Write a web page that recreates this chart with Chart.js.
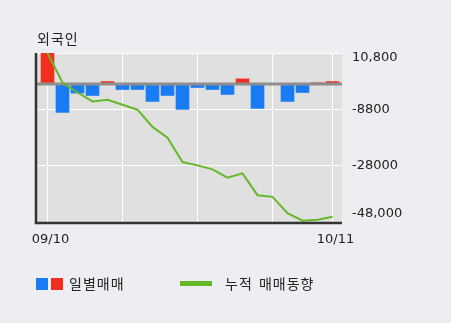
<!DOCTYPE html>
<html>
<head>
<meta charset="utf-8">
<script src="https://cdn.jsdelivr.net/npm/chart.js@4/dist/chart.umd.min.js"></script>
<style>
  html, body { margin: 0; padding: 0; background: #eceef2; }
  #wrap { position: relative; width: 451px; height: 323px; overflow: hidden;
          font-family: "Noto Sans CJK KR", "DejaVu Sans", sans-serif; color: #222; }
  #c { position: absolute; left: 0; top: 0; }
  .title { position: absolute; left: 37px; top: 28px; font-size: 14px; line-height: 20px; letter-spacing: 1px; }
  .leg { position: absolute; top: 273px; font-size: 14px; line-height: 20px; white-space: nowrap;
         letter-spacing: 1px; word-spacing: 2px; }
  .sw { position: absolute; }
</style>
</head>
<body>
<div id="wrap">
  <canvas id="c" width="451" height="323"></canvas>
  <div class="title">외국인</div>
  <div class="sw" style="left:36px;top:278px;width:12px;height:12px;background:#1a7cf5"></div>
  <div class="sw" style="left:51px;top:278px;width:12px;height:12px;background:#f22e1e"></div>
  <div class="leg" style="left:69px">일별매매</div>
  <div class="sw" style="left:180px;top:281px;width:32px;height:5px;background:#66b82a"></div>
  <div class="leg" style="left:225px">누적 매매동향</div>
</div>
<script>
// Trading days
const dates = ['09/10', '09/11', '09/16', '09/17', '09/18', '09/19', '09/20', '09/23', '09/24', '09/25',
               '09/26', '09/27', '09/30', '10/01', '10/02', '10/04', '10/07', '10/08', '10/10', '10/11'];
// Daily net buying (bars)
const daily = [10800, -9860, -3150, -3980, 870, -1900, -1900, -6050, -3980, -8820,
               -1210, -1900, -3630, 1800, -8470, -150, -6050, -2940, 450, 870];
// Cumulative trend (line)
const cumulative = [10800, 520, -2940, -6050, -5470, -7200, -8920, -14910, -18710, -27150,
                    -28300, -29680, -32550, -31060, -38670, -39260, -44900, -47560, -47220, -46180];
// Value axis ticks and their printed labels
const yTickValues = [10800, -8800, -28400, -48000];
const yTickLabels = ['10,800', '-8800', '-28000', '-48,000'];
// Day indexes carrying a vertical grid line, and those that get a date label
const xGridIndex = [0, 5, 10, 15, 19];
const xLabelIndex = [0, 19];

const BLUE = '#1a7cf5', RED = '#f22e1e', GREEN = '#66b82a';
const PLOT_BG = '#e0e0e0', AXIS = '#333333', ZERO = '#8e8e8e';
const NUM_FONT = '13px "DejaVu Sans", sans-serif';

const decor = {
  id: 'decor',
  beforeDraw(chart) {
    const { ctx, chartArea: a } = chart;
    ctx.save();
    ctx.fillStyle = PLOT_BG;
    ctx.fillRect(a.left, a.top, a.right - a.left, a.bottom - a.top);
    ctx.restore();
  },
  beforeDatasetDraw(chart, args) {
    // zero line sits above the bars, below the cumulative line
    if (args.meta.type !== 'line') return;
    const { ctx, chartArea: a } = chart;
    const y0 = chart.scales.y.getPixelForValue(0);
    ctx.save();
    ctx.strokeStyle = ZERO;
    ctx.lineWidth = 3;
    ctx.beginPath();
    ctx.moveTo(a.left, y0);
    ctx.lineTo(a.right, y0);
    ctx.stroke();
    ctx.restore();
  },
  afterDraw(chart) {
    const { ctx, chartArea: a } = chart;
    const xs = chart.scales.x, ys = chart.scales.y;
    ctx.save();
    // left and bottom axis lines
    ctx.strokeStyle = AXIS;
    ctx.lineWidth = 2.5;
    ctx.beginPath();
    ctx.moveTo(a.left - 1, a.top);
    ctx.lineTo(a.left - 1, a.bottom + 2);
    ctx.moveTo(a.left - 2, a.bottom + 1);
    ctx.lineTo(a.right, a.bottom + 1);
    ctx.stroke();

    // value labels on the right, end labels kept inside the plot height
    ctx.fillStyle = '#222';
    ctx.font = NUM_FONT;
    ctx.textAlign = 'left';
    ctx.textBaseline = 'middle';
    yTickValues.forEach((v, i) => {
      let y = ys.getPixelForValue(v);
      y = Math.min(Math.max(y, a.top + 5), a.bottom - 8);
      ctx.fillText(yTickLabels[i], a.right + 10, y);
    });

    // date labels
    ctx.textAlign = 'center';
    xLabelIndex.forEach(i => {
      ctx.fillText(dates[i], xs.getPixelForValue(i) + 3, a.bottom + 18);
    });
    ctx.restore();
  }
};

new Chart(document.getElementById('c'), {
  type: 'bar',
  data: {
    datasets: [
      {
        type: 'bar',
        data: daily.map((v, i) => ({ x: i, y: v })),
        backgroundColor: daily.map(v => (v >= 0 ? RED : BLUE)),
        barThickness: 13,
        borderWidth: 0,
        order: 2
      },
      {
        type: 'line',
        data: cumulative.map((v, i) => ({ x: i, y: v })),
        borderColor: GREEN,
        borderWidth: 2,
        pointRadius: 0,
        tension: 0,
        fill: false,
        order: 1
      }
    ]
  },
  options: {
    responsive: false,
    animation: false,
    devicePixelRatio: 1,
    layout: { padding: { left: 37, right: 109, top: 53, bottom: 101 } },
    plugins: { legend: { display: false }, tooltip: { enabled: false } },
    scales: {
      x: {
        type: 'linear',
        min: -0.7,
        max: 19.633,
        offset: false,
        afterBuildTicks: s => { s.ticks = xGridIndex.map(v => ({ value: v })); },
        ticks: { display: false },
        grid: { color: '#ffffff', lineWidth: 1, drawTicks: false, offset: false },
        border: { display: false }
      },
      y: {
        position: 'right',
        min: -48000,
        max: 10800,
        afterBuildTicks: s => { s.ticks = yTickValues.map(v => ({ value: v })); },
        ticks: { display: false },
        grid: { color: '#ffffff', lineWidth: 1, drawTicks: false },
        border: { display: false }
      }
    }
  },
  plugins: [decor]
});
</script>
</body>
</html>
